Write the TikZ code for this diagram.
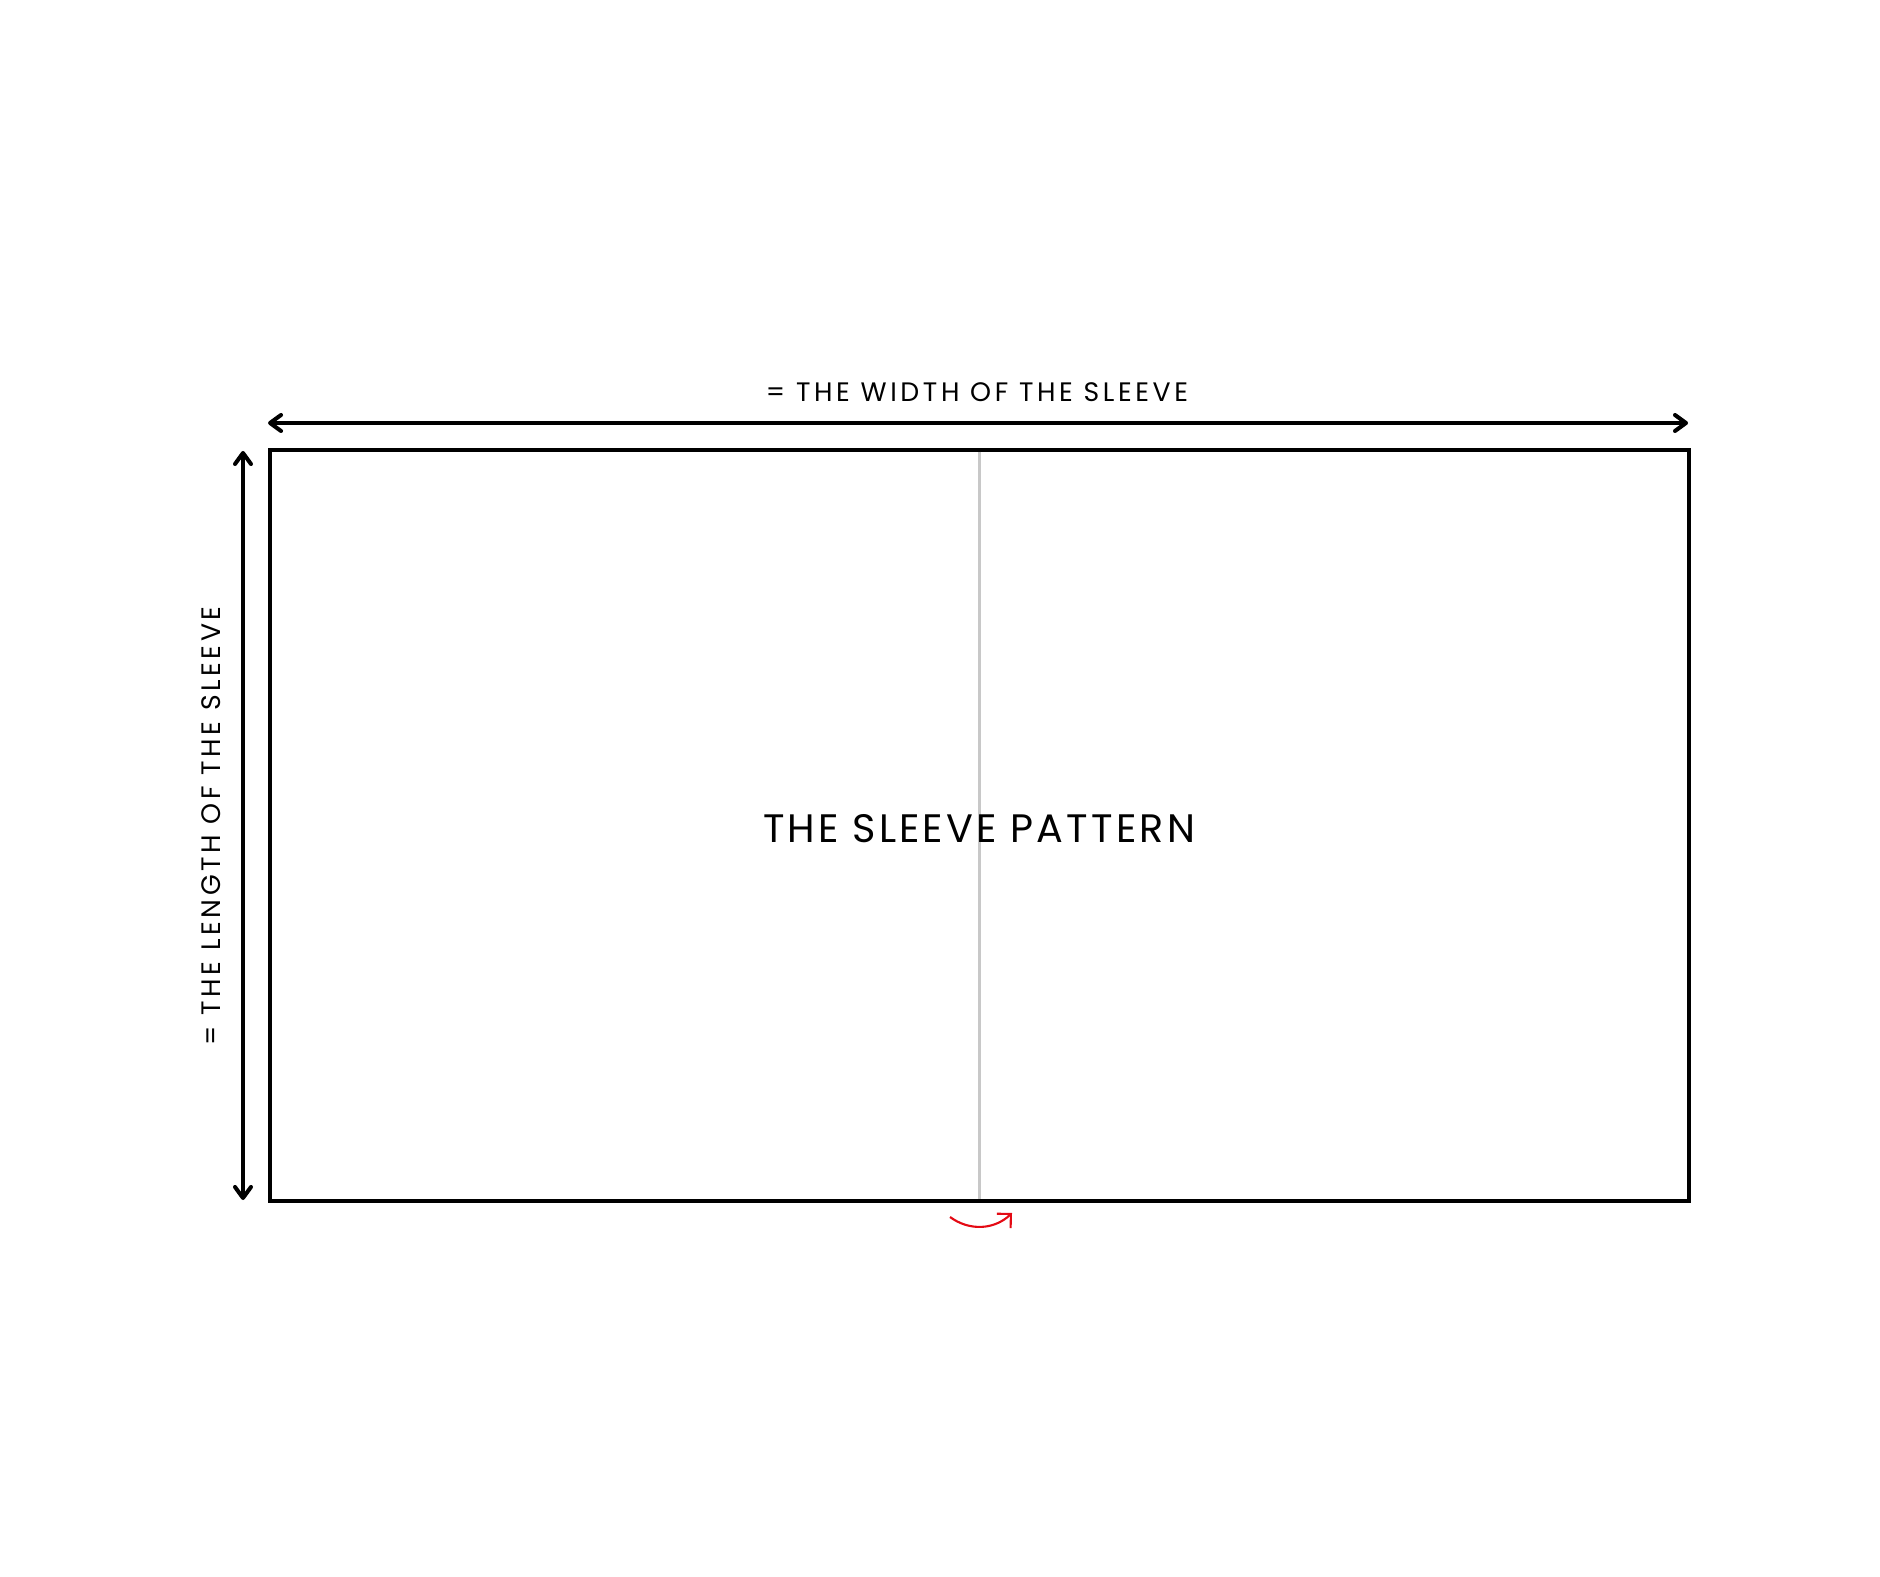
\documentclass[tikz,border=0pt]{standalone}
\usepackage{fontspec}
\setmainfont{Poppins}
\newfontfamily\patternfont[LetterSpace=8]{Poppins}
\newfontfamily\labelfont[LetterSpace=13.5]{Poppins}
\usepackage{tikz}
\usetikzlibrary{arrows.meta}

\definecolor{foldgray}{RGB}{200,200,200}
\definecolor{turnred}{RGB}{228,10,20}

\begin{document}
\begin{tikzpicture}[
  outline/.style={line width=1.15pt},
  dimline/.style={line width=1.15pt, {Straight Barb[length=1.1mm,width=1.6mm,round]}-{Straight Barb[length=1.1mm,width=1.6mm,round]}},
  dimlabel/.style={inner sep=0pt, font=\labelfont\fontsize{7.6}{9}\selectfont},
]
% Page size
\useasboundingbox (0,0) rectangle (18.8,15.76);

% Draw sleeve pattern
\coordinate (sw) at (2.70,3.75);
\coordinate (ne) at (16.89,11.26);
\draw[outline] (sw) rectangle (ne);

% Draw fold line
\coordinate (foldtop) at (9.795,11.24);
\coordinate (foldbot) at (9.795,3.77);
\draw[foldgray, line width=0.85pt] (foldtop) -- (foldbot);

% Label pattern
\node[inner sep=0pt, anchor=base, font=\patternfont\fontsize{11.3}{13}\selectfont] (pattern) at (9.79,7.33) {THE SLEEVE PATTERN};

% Draw width arrow
\coordinate (wleft) at (2.68,11.53);
\coordinate (wright) at (16.88,11.53);
\draw[dimline] (wleft) -- (wright);
\node[dimlabel, anchor=base] (width) at (9.77,11.74) {= THE WIDTH OF THE SLEEVE};

% Draw length arrow
\coordinate (ltop) at (2.43,11.25);
\coordinate (lbot) at (2.43,3.76);
\draw[dimline] (ltop) -- (lbot);
\node[dimlabel, anchor=base, rotate=90] (length) at (2.20,7.50) {= THE LENGTH OF THE SLEEVE};

% Draw turn arrow
\coordinate (turnstart) at (9.50,3.59);
\coordinate (turnend) at (10.12,3.63);
\draw[turnred, line width=0.6pt, -{Straight Barb[length=1mm,width=2mm]}] (turnstart) to[bend right=40] (turnend);
\end{tikzpicture}
\end{document}
